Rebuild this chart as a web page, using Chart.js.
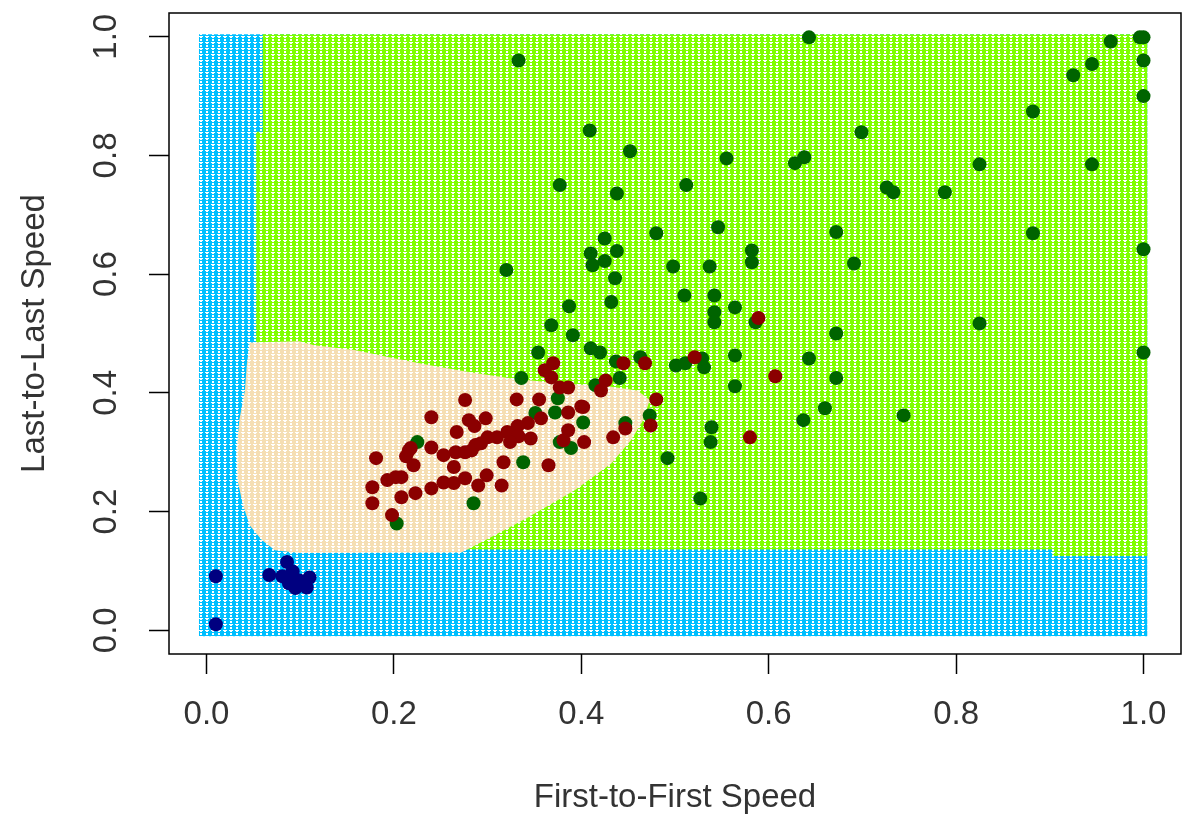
<!DOCTYPE html>
<html>
<head>
<meta charset="utf-8">
<script src="https://cdn.jsdelivr.net/npm/chart.js@4.4.1/dist/chart.umd.min.js"></script>
<style>
  html, body { margin: 0; padding: 0; background: #fff; }
  canvas { display: block; }
</style>
</head>
<body>
<canvas id="myChart" width="1188" height="822"></canvas>
<script>
(function () {
    "use strict";

    // axis ticks
    var xTicks = [0, 0.2, 0.4, 0.6, 0.8, 1.0];
    var yTicks = [0, 0.2, 0.4, 0.6, 0.8, 1.0];
    var tickLabels = ['0.0', '0.2', '0.4', '0.6', '0.8', '1.0'];
    var xTitle = 'First-to-First Speed';
    var yTitle = 'Last-to-Last Speed';

    // classification regions (outlines)
    var blueX = [-0.008, 1.004, 1.004, -0.008];
    var blueY = [-0.010, -0.010, 1.004, 1.004];
    var greenX = [0.060, 1.004, 1.004, 0.903, 0.903, 0.200, 0.053, 0.053, 0.060];
    var greenY = [1.004, 1.004, 0.125, 0.125, 0.136, 0.136, 0.300, 0.840, 0.840];
    var tanX = [0.046, 0.099, 0.115, 0.158, 0.195, 0.237, 0.280, 0.322, 0.375, 0.428,
                0.460, 0.473, 0.466, 0.453, 0.432, 0.393, 0.343, 0.304, 0.272, 0.099,
                0.073, 0.059, 0.046, 0.039, 0.033, 0.032, 0.035, 0.041, 0.043];
    var tanY = [0.485, 0.487, 0.480, 0.472, 0.460, 0.447, 0.435, 0.425, 0.416, 0.411,
                0.404, 0.388, 0.354, 0.320, 0.281, 0.236, 0.190, 0.157, 0.131, 0.130,
                0.135, 0.152, 0.177, 0.211, 0.253, 0.303, 0.354, 0.404, 0.447];

    // observations
    var navyX = [0.010, 0.010, 0.067, 0.086, 0.081, 0.092, 0.099, 0.110, 0.095, 0.107, 0.088];
    var navyY = [0.091, 0.010, 0.093, 0.115, 0.091, 0.099, 0.084, 0.089, 0.071, 0.072, 0.079];

    var fastX = [0.333, 0.643, 0.965, 0.996, 1.000, 0.945, 0.925, 1.000, 1.000, 0.882,
                 0.699, 0.825, 0.945, 0.726, 0.733, 0.788, 0.882, 1.000, 0.825, 1.000,
                 0.744, 0.409, 0.452, 0.555, 0.628, 0.638, 0.512, 0.438, 0.546, 0.480,
                 0.672, 0.425, 0.410, 0.412, 0.438, 0.425, 0.498, 0.537, 0.582, 0.582,
                 0.691, 0.436, 0.432, 0.510, 0.542, 0.542, 0.542, 0.564, 0.586, 0.672,
                 0.672, 0.643, 0.564, 0.564, 0.660, 0.637, 0.539, 0.538, 0.492, 0.527,
                 0.410, 0.420, 0.437, 0.463, 0.501, 0.511, 0.531, 0.529, 0.441, 0.415,
                 0.473, 0.447, 0.402, 0.320, 0.377, 0.387, 0.368, 0.391, 0.354, 0.336,
                 0.351, 0.372, 0.377, 0.389, 0.338, 0.285, 0.203, 0.225, 0.375];
    var fastY = [0.960, 0.999, 0.992, 0.999, 0.999, 0.954, 0.935, 0.960, 0.900, 0.874,
                 0.839, 0.785, 0.785, 0.746, 0.738, 0.738, 0.669, 0.642, 0.517, 0.468,
                 0.362, 0.842, 0.807, 0.795, 0.787, 0.797, 0.750, 0.736, 0.679, 0.669,
                 0.671, 0.660, 0.635, 0.615, 0.639, 0.622, 0.613, 0.613, 0.640, 0.620,
                 0.618, 0.593, 0.553, 0.564, 0.564, 0.536, 0.519, 0.544, 0.519, 0.500,
                 0.425, 0.458, 0.463, 0.411, 0.374, 0.354, 0.342, 0.317, 0.290, 0.222,
                 0.475, 0.468, 0.453, 0.460, 0.446, 0.450, 0.443, 0.458, 0.425, 0.413,
                 0.362, 0.349, 0.350, 0.607, 0.750, 0.546, 0.514, 0.497, 0.468, 0.425,
                 0.366, 0.367, 0.317, 0.307, 0.283, 0.214, 0.180, 0.317, 0.391];

    var midX = [0.589, 0.607, 0.580, 0.521, 0.480, 0.474, 0.447, 0.434, 0.468, 0.445,
                0.426, 0.421, 0.402, 0.403, 0.386, 0.400, 0.386, 0.381, 0.377, 0.386,
                0.368, 0.361, 0.370, 0.355, 0.331, 0.365, 0.317, 0.357, 0.343, 0.332,
                0.321, 0.310, 0.300, 0.346, 0.333, 0.276, 0.240, 0.280, 0.298, 0.286,
                0.267, 0.218, 0.213, 0.221, 0.240, 0.253, 0.266, 0.276, 0.264, 0.287,
                0.208, 0.223, 0.240, 0.253, 0.264, 0.276, 0.290, 0.299, 0.315, 0.181,
                0.177, 0.193, 0.202, 0.177, 0.198, 0.208, 0.216, 0.283, 0.293, 0.324];
    var midY = [0.526, 0.428, 0.325, 0.460, 0.389, 0.345, 0.340, 0.325, 0.450, 0.450,
                0.421, 0.404, 0.376, 0.317, 0.367, 0.377, 0.337, 0.320, 0.409, 0.409,
                0.426, 0.438, 0.450, 0.389, 0.389, 0.278, 0.283, 0.357, 0.349, 0.344,
                0.334, 0.325, 0.325, 0.323, 0.327, 0.388, 0.359, 0.354, 0.357, 0.344,
                0.334, 0.307, 0.293, 0.278, 0.308, 0.295, 0.300, 0.300, 0.275, 0.312,
                0.258, 0.231, 0.239, 0.249, 0.248, 0.256, 0.244, 0.261, 0.244, 0.290,
                0.241, 0.253, 0.258, 0.214, 0.194, 0.224, 0.303, 0.303, 0.315, 0.317];

    function toPoints(xs, ys) {
        return xs.map(function (x, i) { return { x: x, y: ys[i] }; });
    }

    // little tile that imitates the dense grid of plotted symbols
    function makePattern(color) {
        var tile = document.createElement('canvas');
        tile.width = 6;
        tile.height = 6;
        var t = tile.getContext('2d');
        t.fillStyle = color;
        t.fillRect(0, 0, 6, 6);
        t.fillStyle = '#fff';
        t.fillRect(1, 0, 4, 1);
        t.fillRect(2, 1, 2, 1);
        t.fillRect(2, 3, 2, 2);
        return t.createPattern(tile, 'repeat');
    }

    function regionSet(xs, ys, color, order) {
        return {
            type: 'line',
            data: toPoints(xs, ys),
            fill: 'shape',
            backgroundColor: makePattern(color),
            borderColor: 'rgba(0,0,0,0)',
            borderWidth: 0,
            pointRadius: 0,
            pointHoverRadius: 0,
            tension: 0,
            order: order
        };
    }

    function pointSet(xs, ys, color, order) {
        return {
            data: toPoints(xs, ys),
            backgroundColor: color,
            borderColor: color,
            pointRadius: 7,
            pointBorderWidth: 0,
            pointHoverRadius: 7,
            order: order
        };
    }

    var frame = {
        id: 'frame',
        afterDatasetsDraw: function (chart) {
            var ctx = chart.ctx;
            var a = chart.chartArea;
            var xs = chart.scales.x;
            var ys = chart.scales.y;
            ctx.save();
            ctx.strokeStyle = '#000';
            ctx.lineWidth = 1.5;
            ctx.strokeRect(a.left, a.top, a.right - a.left, a.bottom - a.top);

            ctx.fillStyle = '#333';
            ctx.font = '33px "Liberation Sans", Arial, sans-serif';
            ctx.textAlign = 'center';
            ctx.textBaseline = 'middle';
            xTicks.forEach(function (v, i) {
                ctx.fillText(tickLabels[i], xs.getPixelForValue(v), a.bottom + 61);
            });
            yTicks.forEach(function (v, i) {
                ctx.save();
                ctx.translate(a.left - 62, ys.getPixelForValue(v));
                ctx.rotate(-Math.PI / 2);
                ctx.fillText(tickLabels[i], 0, 0);
                ctx.restore();
            });
            ctx.fillText(xTitle, (a.left + a.right) / 2, a.bottom + 144);
            ctx.save();
            ctx.translate(a.left - 134, (a.top + a.bottom) / 2);
            ctx.rotate(-Math.PI / 2);
            ctx.fillText(yTitle, 0, 0);
            ctx.restore();
            ctx.restore();
        }
    };

    var tickGrid = {
        display: true,
        drawOnChartArea: false,
        drawTicks: true,
        tickLength: 20,
        tickColor: '#000',
        tickWidth: 1.5
    };

    var ctx = document.getElementById('myChart');
    var chart = new Chart(ctx, {
        type: 'scatter',
        data: {
            datasets: [
                pointSet(midX, midY, '#8B0000', 1),
                pointSet(fastX, fastY, '#006400', 2),
                pointSet(navyX, navyY, '#000080', 3),
                regionSet(tanX, tanY, '#F5DEB3', 4),
                regionSet(greenX, greenY, '#7FFF00', 5),
                regionSet(blueX, blueY, '#00BFFF', 6)
            ]
        },
        options: {
            responsive: false,
            animation: false,
            devicePixelRatio: 1,
            layout: {
                padding: { left: 149, top: 13, right: 2, bottom: 148 }
            },
            scales: {
                x: {
                    type: 'linear',
                    min: -0.04,
                    max: 1.04,
                    afterBuildTicks: function (scale) {
                        scale.ticks = xTicks.map(function (v) { return { value: v }; });
                    },
                    ticks: { display: false },
                    grid: tickGrid,
                    border: { display: false }
                },
                y: {
                    type: 'linear',
                    min: -0.04,
                    max: 1.04,
                    afterBuildTicks: function (scale) {
                        scale.ticks = yTicks.map(function (v) { return { value: v }; });
                    },
                    ticks: { display: false },
                    grid: tickGrid,
                    border: { display: false }
                }
            },
            plugins: {
                legend: { display: false },
                tooltip: { enabled: false }
            }
        },
        plugins: [frame]
    });
})();
</script>
</body>
</html>
